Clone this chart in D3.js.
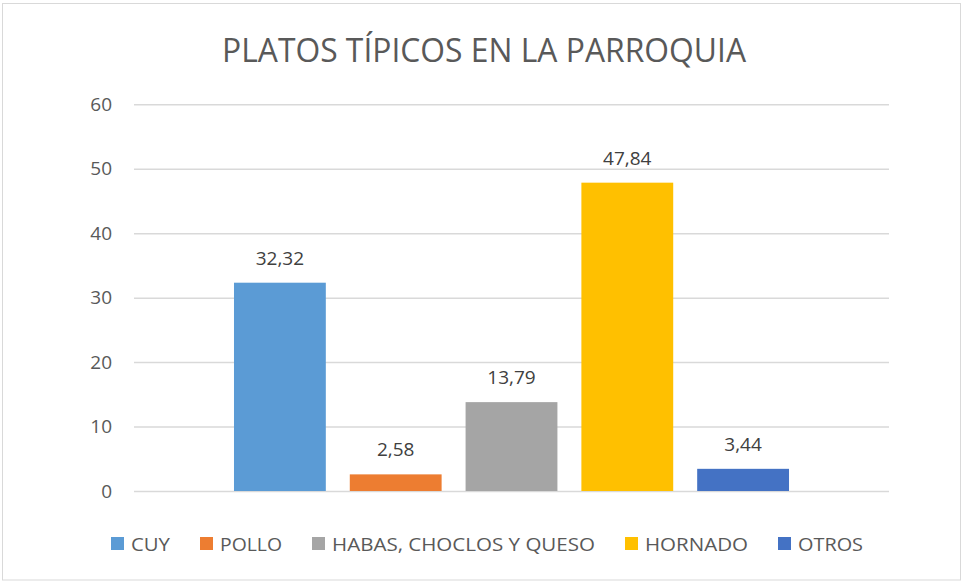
<html>
	<head>
		<title>Platos tipicos en la parroquia | D3</title>
		<script src="https://d3js.org/d3.v7.min.js" charset="utf-8"></script>
		<style>
		body {
			margin: 0;
			background: white;
			font-family: "Open Sans", "Noto Sans", sans-serif;
			}
		</style>
	</head>
	<body>
		<script>
		//size of the window
		var width = 962;
		var height = 582;

		//the data
		var categories = ["CUY", "POLLO", "HABAS, CHOCLOS Y QUESO", "HORNADO", "OTROS"];
		var values = [32.32, 2.58, 13.79, 47.84, 3.44];
		var colors = ["#5b9bd5", "#ed7d31", "#a5a5a5", "#ffc000", "#4472c4"];
		var yTicks = [0, 10, 20, 30, 40, 50, 60];
		var title = "PLATOS TÍPICOS EN LA PARROQUIA";

		//plot area (window.top is taken, so these get a prefix)
		var plotLeft = 134, plotRight = 889, plotTop = 104.3, plotBottom = 491;

		var svg = d3.select("body")
			.append("svg")
			.attr("width", width)
			.attr("height", height);

		//chart border
		svg.append("rect")
			.attr("x", 2.5).attr("y", 3.5)
			.attr("width", 958).attr("height", 576.5)
			.attr("fill", "white")
			.attr("stroke", "#d9d9d9");

		//title
		svg.append("text")
			.attr("x", 484).attr("y", 62)
			.attr("text-anchor", "middle")
			.attr("font-size", 32)
			.attr("fill", "#595959")
			.attr("textLength", 524)
			.attr("lengthAdjust", "spacingAndGlyphs")
			.text(title);

		//scales
		var y = d3.scaleLinear().domain([0, 60]).range([plotBottom, plotTop]);

		//one category with five series, so the bars sit in the middle of the plot
		var x = d3.scaleBand()
			.domain(categories)
			.range([222, 801])
			.paddingInner(0.207)
			.paddingOuter(0.1035);

		//gridlines and labels through an axis
		var yAxis = d3.axisLeft(y)
			.tickValues(yTicks)
			.tickSize(-(plotRight - plotLeft))
			.tickPadding(22)
			.tickFormat(d3.format("d"));

		var ga = svg.append("g")
			.attr("transform", "translate(" + plotLeft + ",0)")
			.call(yAxis);
		ga.select(".domain").remove();
		ga.selectAll(".tick line")
			.attr("stroke", "#d9d9d9")
			.attr("stroke-width", 1.5);
		ga.selectAll(".tick text")
			.attr("fill", "#595959")
			.attr("font-size", 19)
			.attr("font-family", "Open Sans, sans-serif");

		//bars
		svg.selectAll("rect.bar")
			.data(values)
			.enter()
			.append("rect")
			.attr("class", "bar")
			.attr("x", function(d, i) { return x(categories[i]); })
			.attr("width", x.bandwidth())
			.attr("y", function(d) { return y(d); })
			.attr("height", function(d) { return y(0) - y(d); })
			.attr("fill", function(d, i) { return colors[i]; });

		//value labels, with a comma for decimals
		var fmt = function(d) { return d3.format(".2f")(d).replace(".", ","); };
		svg.selectAll("text.val")
			.data(values)
			.enter()
			.append("text")
			.attr("class", "val")
			.attr("x", function(d, i) { return x(categories[i]) + x.bandwidth() / 2; })
			.attr("y", function(d) { return y(d) - 18; })
			.attr("text-anchor", "middle")
			.attr("font-size", 19)
			.attr("fill", "#404040")
			.text(fmt);

		//legend at the bottom, entries laid out from the measured text widths
		var legendWidths = [39, 62, 263, 103, 65];
		var legend = svg.append("g");
		var lx = 111;
		categories.forEach(function(c, i) {
			legend.append("rect")
				.attr("x", lx).attr("y", 537)
				.attr("width", 13).attr("height", 13)
				.attr("fill", colors[i]);
			legend.append("text")
				.attr("x", lx + 20).attr("y", 550.5)
				.attr("font-size", 19)
				.attr("fill", "#595959")
				.attr("textLength", legendWidths[i])
				.attr("lengthAdjust", "spacingAndGlyphs")
				.text(c);
			lx += 20 + legendWidths[i] + 30;
		});
		</script>
	</body>
</html>
